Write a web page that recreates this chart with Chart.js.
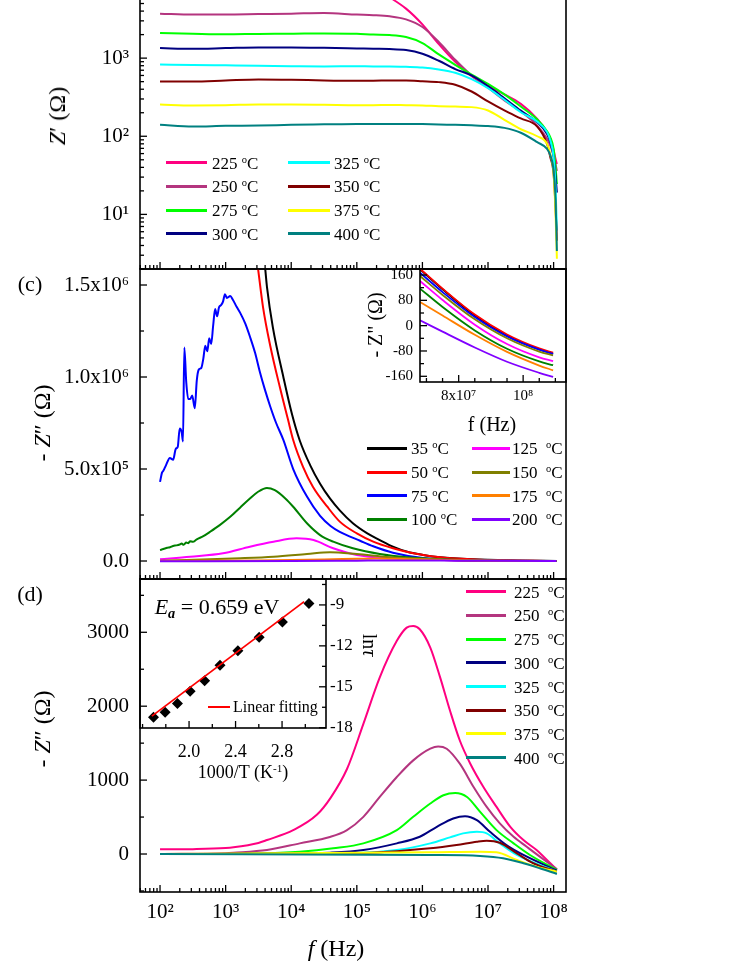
<!DOCTYPE html>
<html><head><meta charset="utf-8">
<script src="https://cdn.jsdelivr.net/npm/chart.js@4.4.1/dist/chart.umd.min.js"></script>
<style>
html,body{margin:0;padding:0;background:#fff;width:747px;height:967px;overflow:hidden;position:relative;font-family:'Liberation Serif','Times New Roman',serif;color:#000}
canvas{position:absolute}
.t{position:absolute;white-space:nowrap;line-height:1}
.c{transform:translate(-50%,-50%)}
.rl{transform:translate(-50%,-50%) rotate(-90deg)}
.rr{transform:translate(-50%,-50%) rotate(90deg)}
.sw{position:absolute;height:3px}
sup{font-size:0.62em;vertical-align:0.5em;line-height:0}
sub{font-size:0.65em;vertical-align:-0.3em;line-height:0}
</style></head><body>
<script>
// ================= DATA =================
const tempsHigh = ['225','250','275','300','325','350','375','400'];
const colorsHigh = ['#ff0080','#b4357f','#00ff00','#000080','#00ffff','#800000','#ffff00','#008080'];
const tempsLow = ['35','50','75','100','125','150','175','200'];
const colorsLow = ['#000000','#ff0000','#0000ff','#008000','#ff00ff','#808000','#ff8000','#8000ff'];

// tick labels
const xDecades = [2,3,4,5,6,7,8];
const xTickLabels = ['10²','10³','10⁴','10⁵','10⁶','10⁷','10⁸'];
const zreDecades = [1,2,3,4];
const zreTickLabels = ['10¹','10²','10³','10⁴'];
const ziCTickVals = [0, 0.5e6, 1.0e6, 1.5e6];
const ziCTickLabels = ['0.0','5.0x10⁵','1.0x10⁶','1.5x10⁶'];
const ziDTickVals = [0, 1000, 2000, 3000];
const ziDTickLabels = ['0','1000','2000','3000'];
const insCXVals = [8e7, 1e8];
const insCXLabels = ['8x10⁷','10⁸'];
const insCYVals = [-160,-80,0,80,160];
const insCYLabels = ['-160','-80','0','80','160'];
const insDXVals = [2.0, 2.4, 2.8];
const insDXLabels = ['2.0','2.4','2.8'];
const insDYVals = [-18,-15,-12,-9];
const insDYLabels = ['-18','-15','-12','-9'];

// ---- Panel (top): Z' vs f, log10(f) grid ----
const lgF_Zre = [2.0,2.5,3.0,3.5,4.0,4.5,5.0,5.25,5.5,5.75,6.0,6.25,6.5,6.75,7.0,7.25,7.5,7.75,7.9,7.95,8.0,8.03,8.05];
const Zre225 = [9200,9300,9300,9200,9300,9200,9000,8000,6000,4300,2700,1514,898,586,438,344,260,167,113,93,66,51,44];
const Zre250 = [3710,3610,3610,3660,3710,3780,3610,3550,3430,3130,2500,1607,953,600,417,287,207,137,93,76,57,44,36];
const Zre275 = [2090,2050,2020,2040,2050,2070,2050,2000,1974,1862,1560,1115,822,617,468,343,240,164,116,97,69,40,24.5];
const Zre300 = [1343,1317,1343,1370,1370,1355,1330,1317,1306,1268,1138,925,724,600,438,307,213,151,107,84,54,31,19];
const Zre325 = [830,816,808,800,790,783,790,783,783,775,760,716,649,538,413,293,203,154,113,88,54,22,6.2];
const Zre350 = [502,502,518,534,529,518,513,513,518,518,507,493,456,374,279,214,169,133,80,54,33,12,4.6];
const Zre375 = [255,248,250,255,255,253,250,250,252,250,248,243,240,236,214,162,123,100,80,59,33,10,2.7];
const Zre400 = [140,133,136,137,140,142,144,144,144,144,143,141,140,138,135,128,111,84,69,57,36,15,3.4];

// ---- Panel (c): -Z'' 35..200 C ----
const lgF35 = [3.3,3.6,3.63,3.72,3.88,4.01,4.13,4.29,4.44,4.59,4.74,4.94,5.16,5.35,5.55,5.77,6.01,6.27,6.77,7.49,8.05];
const Zim35 = [2.4e6,1.60e6,1.49e6,1.27e6,1.00e6,0.80e6,0.655e6,0.52e6,0.42e6,0.34e6,0.275e6,0.205e6,0.15e6,0.114e6,0.078e6,0.05e6,0.033e6,0.02e6,0.009e6,0.003e6,0];
const lgF50 = [3.3,3.49,3.57,3.68,3.83,3.95,4.03,4.18,4.33,4.55,4.74,5.00,5.25,5.55,5.86,6.27,6.88,8.05];
const Zim50 = [2.1e6,1.60e6,1.38e6,1.17e6,0.94e6,0.77e6,0.658e6,0.512e6,0.404e6,0.295e6,0.214e6,0.15e6,0.105e6,0.069e6,0.042e6,0.02e6,0.007e6,0];
const lgF75 = [2.00,2.03,2.05,2.09,2.15,2.20,2.24,2.27,2.30,2.33,2.35,2.37,2.40,2.43,2.46,2.49,2.53,2.56,2.59,2.63,2.66,2.69,2.72,2.75,2.78,2.81,2.84,2.87,2.90,2.93,2.96,2.99,3.02,3.07,3.11,3.17,3.22,3.30,3.37,3.45,3.52,3.60,3.68,3.77,3.88,4.03,4.24,4.44,4.60,4.74,5.05,5.25,5.55,6.01,6.77,8.05];
const Zim75 = [0.43e6,0.48e6,0.49e6,0.52e6,0.56e6,0.55e6,0.61e6,0.62e6,0.72e6,0.70e6,0.65e6,1.16e6,0.97e6,0.88e6,0.88e6,0.90e6,0.83e6,0.98e6,1.04e6,1.05e6,1.10e6,1.17e6,1.14e6,1.21e6,1.18e6,1.28e6,1.37e6,1.33e6,1.38e6,1.39e6,1.41e6,1.45e6,1.43e6,1.44e6,1.42e6,1.38e6,1.35e6,1.29e6,1.22e6,1.13e6,1.03e6,0.93e6,0.84e6,0.75e6,0.658e6,0.50e6,0.35e6,0.245e6,0.19e6,0.158e6,0.11e6,0.08e6,0.045e6,0.016e6,0.002e6,0];
const lgF100 = [2.00,2.05,2.11,2.15,2.20,2.25,2.30,2.33,2.36,2.40,2.43,2.46,2.50,2.56,2.66,2.76,2.91,3.07,3.22,3.37,3.49,3.63,3.75,3.91,4.03,4.24,4.44,4.64,4.94,5.35,5.77,6.27,7.18,8.04];
const Zim100 = [0.06e6,0.065e6,0.072e6,0.075e6,0.082e6,0.085e6,0.09e6,0.095e6,0.088e6,0.1e6,0.097e6,0.108e6,0.104e6,0.118e6,0.135e6,0.158e6,0.195e6,0.24e6,0.29e6,0.34e6,0.375e6,0.397e6,0.385e6,0.34e6,0.295e6,0.205e6,0.141e6,0.105e6,0.069e6,0.038e6,0.02e6,0.009e6,0.002e6,0];
const lgF125 = [2.0,2.46,2.96,3.37,3.73,4.08,4.34,4.64,5.0,5.51,6.27,7.18,8.04];
const Zim125 = [0.009e6,0.023e6,0.042e6,0.078e6,0.105e6,0.123e6,0.114e6,0.069e6,0.033e6,0.015e6,0.005e6,0.001e6,0];
const lgF150 = [2.0,3.22,3.73,4.24,4.59,5.0,5.51,6.27,6.77,8.04];
const Zim150 = [0.002e6,0.015e6,0.023e6,0.038e6,0.048e6,0.038e6,0.02e6,0.009e6,0.003e6,0];
const lgF175 = [2.0,3.5,4.5,5.0,5.3,5.6,6.0,6.5,7.0,8.04];
const Zim175 = [0,0.003e6,0.008e6,0.012e6,0.014e6,0.012e6,0.008e6,0.004e6,0.001e6,0];
const lgF200 = [2.0,4.0,5.0,5.5,6.0,6.5,7.0,8.04];
const Zim200 = [-0.002e6,0,0.002e6,0.003e6,0.003e6,0.002e6,0.001e6,0];

// ---- Inset of (c) ----
const fInsC = [6.8e7,7.5e7,8.5e7,9.5e7,1.05e8,1.093e8];
const insC35 = [178,115,32,-31,-75,-88];
const insC50 = [180,117,35,-28,-72,-85];
const insC75 = [167,106,27,-34,-76,-89];
const insC100 = [117,59,-15,-73,-113,-125];
const insC125 = [141,81,3,-58,-100,-112];
const insC150 = [157,97,20,-40,-82,-94];
const insC175 = [75,32,-29,-83,-126,-141];
const insC200 = [17,-19,-69,-114,-149,-162];

// ---- Panel (d): -Z'' 225..400 C ----
const lgFd225 = [2.0,2.5,3.0,3.12,3.5,3.63,4.03,4.39,4.6,4.85,5.10,5.35,5.61,5.76,5.86,5.96,6.12,6.27,6.42,6.57,6.73,6.93,7.13,7.34,7.54,7.74,7.95,8.05];
const Zd225 = [63,66,80,90,150,189,323,530,760,1150,1761,2390,2884,3063,3086,3041,2794,2390,1941,1536,1222,907,637,368,189,54,-125,-210];
const lgFd250 = [2.0,3.0,3.12,3.63,4.13,4.59,4.85,5.10,5.35,5.61,5.86,6.12,6.24,6.37,6.57,6.78,6.98,7.18,7.39,7.59,7.79,8.05];
const Zd250 = [0,12,18,54,144,230,323,503,772,1042,1267,1425,1456,1425,1222,907,637,414,233,98,-36,-206];
const lgFd275 = [2.0,3.5,4.13,4.64,5.10,5.61,5.86,6.12,6.32,6.50,6.68,6.88,7.13,7.39,7.64,8.05];
const Zd275 = [0,8,31,77,144,323,503,683,795,826,772,570,323,144,-13,-216];
const lgFd300 = [2.0,4.0,4.59,5.10,5.61,5.96,6.22,6.47,6.65,6.83,7.03,7.28,7.54,8.05];
const Zd300 = [0,5,18,54,144,233,368,481,512,458,300,121,-13,-225];
const lgFd325 = [2.0,5.0,5.61,6.12,6.42,6.62,6.83,6.98,7.18,7.44,8.05];
const Zd325 = [0,15,54,144,225,279,300,279,144,-13,-238];
const lgFd350 = [2.0,5.0,6.12,6.52,6.83,6.98,7.18,7.44,7.69,8.05];
const Zd350 = [0,10,77,121,166,179,152,9,-125,-238];
const lgFd375 = [2.0,6.12,6.88,7.13,7.44,7.74,8.05];
const Zd375 = [0,23,31,23,-81,-171,-238];
const lgFd400 = [2.0,6.12,6.88,7.23,7.54,7.79,8.05];
const Zd400 = [0,-13,-27,-58,-125,-193,-270];

// ---- Inset of (d): Arrhenius ----
const invT = [1.694,1.794,1.900,2.009,2.134,2.266,2.420,2.603,2.803,3.031];
const lnTau = [-17.23,-16.86,-16.23,-15.33,-14.55,-13.43,-12.36,-11.36,-10.26,-8.90];
const fitInvT = [1.68,2.99];
const fitLnTau = [-17.15,-8.76];

// ================= BUILD =================
const FONT = "'Liberation Serif','Times New Roman','DejaVu Serif',serif";
const P = 30;

const framePlugin = {
  id: 'frame',
  afterDatasetsDraw(chart, args, opts) {
    const a = chart.chartArea, ctx = chart.ctx;
    ctx.save();
    ctx.strokeStyle = '#000';
    ctx.lineWidth = 1.3;
    (opts.sides || []).forEach(sd => {
      const s = chart.scales[sd.id];
      s.ticks.forEach(tk => {
        const p = s.getPixelForValue(tk.value);
        const L = tk.major ? 7 : 4;
        ctx.beginPath();
        if (sd.side === 'bottom') { if (p < a.left - 0.5 || p > a.right + 0.5) return; ctx.moveTo(p, a.bottom); ctx.lineTo(p, a.bottom - L); }
        else if (sd.side === 'left') { if (p < a.top - 0.5 || p > a.bottom + 0.5) return; ctx.moveTo(a.left, p); ctx.lineTo(a.left + L, p); }
        else { if (p < a.top - 0.5 || p > a.bottom + 0.5) return; ctx.moveTo(a.right, p); ctx.lineTo(a.right - L, p); }
        ctx.stroke();
      });
    });
    ctx.lineWidth = 1.6;
    ctx.strokeRect(a.left, a.top, a.right - a.left, a.bottom - a.top);
    ctx.restore();
  }
};

function logTicks(e0, e1, lo, hi, labExps, labs) {
  const out = [];
  for (let e = e0; e <= e1; e++) for (let k = 1; k <= 9; k++) {
    const v = k * Math.pow(10, e);
    if (v < lo * 0.999 || v > hi * 1.001) continue;
    const j = labExps.indexOf(e);
    out.push({ v, m: k === 1, l: (k === 1 && j >= 0) ? labs[j] : '' });
  }
  return out;
}
function linTicks(lo, hi, step, majVals, majLabs) {
  const out = [];
  const n0 = Math.ceil(lo / step - 1e-9), n1 = Math.floor(hi / step + 1e-9);
  for (let n = n0; n <= n1; n++) {
    const v = n * step;
    const j = majVals.findIndex(m => Math.abs(m - v) < step * 1e-6);
    out.push({ v, m: j >= 0, l: j >= 0 ? majLabs[j] : '' });
  }
  return out;
}
function scale(type, position, min, max, ticks, o) {
  o = o || {};
  return {
    type, position, min, max, bounds: 'data', display: o.size !== undefined,
    grid: { display: false, drawTicks: false }, border: { display: false },
    afterBuildTicks: s => { s.ticks = ticks.map(t => ({ value: t.v, major: t.m, txt: t.l })); },
    afterFit: s => { if (o.size === undefined) return; if (s.isHorizontal()) s.height = o.size; else s.width = o.size; },
    ticks: { autoSkip: false, maxRotation: 0, minRotation: 0, padding: o.pad || 0, color: '#000',
      font: { family: FONT, size: o.fs || 12 }, callback: (v, i, t) => (t[i] && t[i].txt) || '' }
  };
}
function ds(xs, ys, color, i, opt) {
  return Object.assign({
    data: xs.map((x, k) => ({ x, y: ys[k] })), borderColor: color, backgroundColor: color,
    borderWidth: 2, pointRadius: 0, fill: false, cubicInterpolationMode: 'monotone', order: -i
  }, opt || {});
}
const pw = a => a.map(l => Math.pow(10, l));

function makeChart(area, m, scales, datasets, sides) {
  const c = document.createElement('canvas');
  const w = m.l + (area.R - area.L) + m.r + 2 * P;
  const h = m.t + (area.B - area.T) + m.b + 2 * P;
  c.width = w; c.height = h;
  c.style.left = (area.L - m.l - P) + 'px';
  c.style.top = (area.T - m.t - P) + 'px';
  c.style.width = w + 'px'; c.style.height = h + 'px';
  document.body.appendChild(c);
  return new Chart(c.getContext('2d'), {
    type: 'line',
    data: { datasets },
    options: {
      responsive: false, animation: false, devicePixelRatio: 1, events: [],
      layout: { padding: P },
      plugins: { legend: { display: false }, tooltip: { enabled: false }, frame: { sides } },
      scales
    },
    plugins: [framePlugin]
  });
}

const XMIN = 49.5, XMAX = 1.545e8;
const xTicksMain = logTicks(1, 8, XMIN, XMAX, xDecades, xTickLabels);
const xTicksNoLab = logTicks(1, 8, XMIN, XMAX, [], []);

// ---- top panel ----
const zreSeries = [Zre225, Zre250, Zre275, Zre300, Zre325, Zre350, Zre375, Zre400];
makeChart({ L: 140, R: 566, T: -20, B: 269 }, { l: 140, r: 0, t: 0, b: 0 }, {
  x: scale('logarithmic', 'bottom', XMIN, XMAX, xTicksNoLab),
  y: scale('logarithmic', 'left', 2, 1e4, logTicks(0, 4, 2, 1e4, zreDecades, zreTickLabels), { size: 140, pad: 11, fs: 21 })
}, zreSeries.map((s, i) => ds(pw(lgF_Zre), s, colorsHigh[i], i)),
  [{ id: 'x', side: 'bottom' }, { id: 'y', side: 'left' }]);

// ---- panel (c) ----
const cX = [lgF35, lgF50, lgF75, lgF100, lgF125, lgF150, lgF175, lgF200];
const cY = [Zim35, Zim50, Zim75, Zim100, Zim125, Zim150, Zim175, Zim200];
makeChart({ L: 140, R: 566, T: 269, B: 579 }, { l: 140, r: 0, t: 0, b: 0 }, {
  x: scale('logarithmic', 'bottom', XMIN, XMAX, xTicksNoLab),
  y: scale('linear', 'left', -0.0978e6, 1.587e6, linTicks(-0.0978e6, 1.587e6, 0.25e6, ziCTickVals, ziCTickLabels), { size: 140, pad: 11, fs: 21 })
}, cX.map((xs, i) => ds(pw(xs), cY[i], colorsLow[i], i)),
  [{ id: 'x', side: 'bottom' }, { id: 'y', side: 'left' }]);

// ---- panel (d) ----
const dX = [lgFd225, lgFd250, lgFd275, lgFd300, lgFd325, lgFd350, lgFd375, lgFd400];
const dY = [Zd225, Zd250, Zd275, Zd300, Zd325, Zd350, Zd375, Zd400];
makeChart({ L: 140, R: 566, T: 579, B: 892 }, { l: 140, r: 0, t: 0, b: 50 }, {
  x: scale('logarithmic', 'bottom', XMIN, XMAX, xTicksMain, { size: 50, pad: 8, fs: 21 }),
  y: scale('linear', 'left', -514, 3721, linTicks(-514, 3721, 500, ziDTickVals, ziDTickLabels), { size: 140, pad: 11, fs: 21 })
}, dX.map((xs, i) => ds(pw(xs), dY[i], colorsHigh[i], i)),
  [{ id: 'x', side: 'bottom' }, { id: 'y', side: 'left' }]);

// ---- inset of (c) ----
const insC = [insC35, insC50, insC75, insC100, insC125, insC150, insC175, insC200];
makeChart({ L: 420, R: 566, T: 269, B: 382 }, { l: 50, r: 0, t: 0, b: 30 }, {
  x: scale('linear', 'bottom', 6.8e7, 1.133e8, linTicks(6.8e7, 1.133e8, 5e6, insCXVals, insCXLabels), { size: 30, pad: 5, fs: 15 }),
  y: scale('linear', 'left', -178, 179, linTicks(-178, 179, 40, insCYVals, insCYLabels), { size: 50, pad: 7, fs: 15 })
}, insC.map((s, i) => ds(fInsC, s, colorsLow[i], i, { borderWidth: 1.8 })),
  [{ id: 'x', side: 'bottom' }, { id: 'y', side: 'left' }]);

// ---- inset of (d) ----
makeChart({ L: 140, R: 326, T: 579, B: 728 }, { l: 0, r: 50, t: 0, b: 40 }, {
  x: scale('linear', 'bottom', 1.578, 3.178, linTicks(1.578, 3.178, 0.2, insDXVals, insDXLabels), { size: 40, pad: 13, fs: 18 }),
  y: scale('linear', 'right', -18.02, -7.1, linTicks(-18.02, -7.1, 1.5, insDYVals, insDYLabels), { size: 50, pad: 4, fs: 17 })
}, [
  ds(invT, lnTau, '#000', 0, { showLine: false, pointStyle: 'rectRot', pointRadius: 5.5, borderWidth: 0, backgroundColor: '#000' }),
  ds(fitInvT, fitLnTau, '#ff0000', 1, { borderWidth: 1.8, cubicInterpolationMode: 'default', tension: 0 })
], [{ id: 'x', side: 'bottom' }, { id: 'y', side: 'right' }]);

// ================= TEXT & LEGENDS =================
function addText(html, x, y, fs, cls, extra) {
  const d = document.createElement('div');
  d.className = 't ' + (cls || 'c');
  d.style.left = x + 'px'; d.style.top = y + 'px'; d.style.fontSize = fs + 'px';
  if (extra) d.style.cssText += extra;
  d.innerHTML = html;
  document.body.appendChild(d);
}
function addLegend(labels, colors, x1, x2, tx, y0, dy, fs, sep) {
  labels.forEach((lab, i) => {
    const y = y0 + i * dy;
    const sw = document.createElement('div');
    sw.className = 'sw';
    sw.style.cssText = `left:${x1}px;width:${x2 - x1}px;top:${y - 1.5}px;background:${colors[i]}`;
    document.body.appendChild(sw);
    const t = document.createElement('div');
    t.className = 't';
    t.style.cssText = `left:${tx}px;top:${y}px;font-size:${fs}px;transform:translateY(-50%)`;
    t.innerHTML = lab + sep + '<sup>o</sup>C';
    document.body.appendChild(t);
  });
}
// top legend
addLegend(tempsHigh.slice(0, 4), colorsHigh.slice(0, 4), 166, 207, 212, 162.7, 23.7, 17, ' ');
addLegend(tempsHigh.slice(4), colorsHigh.slice(4), 288, 330, 334, 162.7, 23.7, 17, ' ');
// (c) legend
addLegend(tempsLow.slice(0, 4), colorsLow.slice(0, 4), 367, 407, 411, 448.3, 23.7, 17, ' ');
addLegend(tempsLow.slice(4), colorsLow.slice(4), 472, 510, 512, 448.3, 23.7, 17, '&nbsp;&nbsp;');
// (d) legend
addLegend(tempsHigh, colorsHigh, 466, 506, 514, 591.7, 23.7, 17, '&nbsp;&nbsp;');
// linear fitting legend
(function () {
  const sw = document.createElement('div');
  sw.className = 'sw';
  sw.style.cssText = 'left:208px;width:22px;top:705.7px;height:2px;background:#ff0000';
  document.body.appendChild(sw);
  addText('Linear fitting', 233, 706.7, 16, '', 'transform:translateY(-50%)');
})();

addText('<i>Z</i>′ (Ω)', 57, 116, 24, 'rl');
addText('- <i>Z</i>″ (Ω)', 42, 423, 24, 'rl');
addText('- <i>Z</i>″ (Ω)', 42, 729, 24, 'rl');
addText('(c)', 30, 284, 22, 'c');
addText('(d)', 30, 594, 22, 'c');
addText('<i>f</i> (Hz)', 336, 948, 24, 'c');
addText('- Z" (Ω)', 375, 325, 20, 'rl');
addText('f (Hz)', 492, 424, 20, 'c');
addText('<i>E</i><sub><b><i>a</i></b></sub> = 0.659 eV', 217, 607, 22, 'c');
addText('ln<i>τ</i>', 370, 645, 20, 'rr');
addText('1000/T (K<sup>-1</sup>)', 243, 772, 18, 'c');
</script>
</body></html>
